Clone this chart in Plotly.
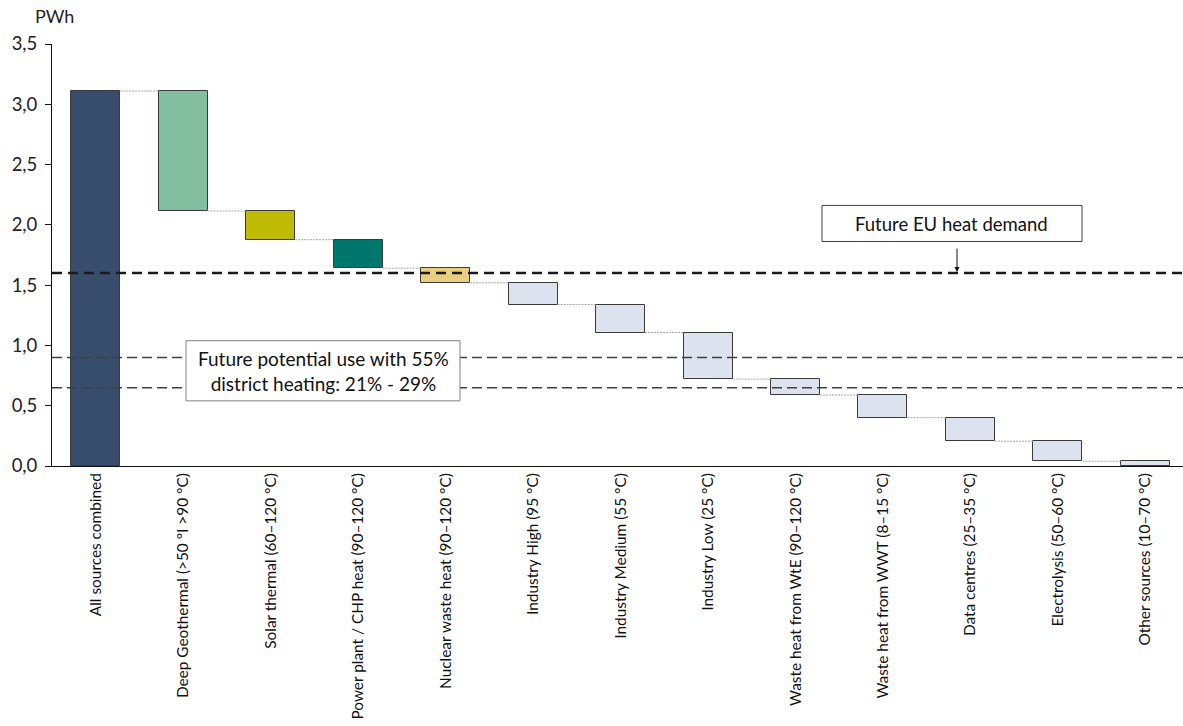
import plotly.graph_objects as go

categories = [
    "All sources combined",
    "Deep Geothermal (>50 °I >90 °C)",
    "Solar thermal (60–120 °C)",
    "Power plant / CHP heat (90–120 °C)",
    "Nuclear waste heat (90–120 °C)",
    "Industry High (95 °C)",
    "Industry Medium (55 °C)",
    "Industry Low (25 °C)",
    "Waste heat from WtE (90–120 °C)",
    "Waste heat from WWT (8–15 °C)",
    "Data centres (25–35 °C)",
    "Electrolysis (50–60 °C)",
    "Other sources (10–70 °C)",
]
total_value = 3.11
contributions = [0.995, 0.238, 0.236, 0.122, 0.18, 0.232, 0.386, 0.132, 0.188, 0.195, 0.166, 0.04]
eu_heat_demand = 1.6
potential_range = [0.9, 0.65]
bar_colors = ["#384D6B", "#83BEA0", "#BFBA05", "#00776D", "#E8CE7E"] + ["#DCE3EE"] * 8

# floating bars
bases = [0.0]
heights = [total_value]
level = total_value
for c in contributions:
    level -= c
    bases.append(level)
    heights.append(c)

W, H = 1183, 726
L, T, B = 52, 44, 260
bar_w = 0.56
x_right = 12.43

fig = go.Figure()
fig.add_trace(go.Bar(
    x=list(range(len(categories))), y=heights, base=bases, width=bar_w,
    marker=dict(color=bar_colors, line=dict(color="#3A3A3A", width=1)),
    showlegend=False, hoverinfo="skip",
))

shapes = []
# connectors
for i in range(len(categories) - 1):
    top_next = bases[i + 1] + heights[i + 1]
    shapes.append(dict(type="line", xref="x", yref="y",
                       x0=i + bar_w / 2, x1=i + 1 - bar_w / 2, y0=top_next, y1=top_next,
                       line=dict(color="#A6A6A6", width=1, dash="2px,1px"), layer="above"))
# reference lines
shapes.append(dict(type="line", xref="paper", yref="y", x0=0, x1=1, y0=eu_heat_demand, y1=eu_heat_demand,
                   line=dict(color="#1A1A1A", width=2.5, dash="10px,6px"), layer="above"))
for v in potential_range:
    shapes.append(dict(type="line", xref="paper", yref="y", x0=0, x1=1, y0=v, y1=v,
                       line=dict(color="#404040", width=1.5, dash="10px,5px"), layer="above"))

pw = W - L
def px_x(p):
    return (p - L) / pw
def px_y(p):
    return (466 - p) / 120.3 * 1.0

# boxes
shapes.append(dict(type="rect", xref="paper", yref="y", x0=px_x(822), x1=px_x(1082),
                   y0=px_y(242), y1=px_y(206), fillcolor="white",
                   line=dict(color="#404040", width=1), layer="above"))
shapes.append(dict(type="rect", xref="paper", yref="y", x0=px_x(186), x1=px_x(460),
                   y0=px_y(401), y1=px_y(341), fillcolor="white",
                   line=dict(color="#808080", width=1), layer="above"))

font_family = "Lato, Carlito, 'Open Sans', sans-serif"
annotations = [
    dict(text="PWh", xref="paper", yref="paper", x=px_x(33), y=(466 - 16) / 422,
         xanchor="left", yanchor="middle", showarrow=False, font=dict(size=18, color="#222")),
    dict(text="Future EU heat demand", xref="paper", yref="y", x=px_x(951), y=px_y(225),
         xanchor="center", yanchor="middle", showarrow=False, font=dict(size=18.5, color="#111")),
    dict(text="Future potential use with 55%<br>district heating: 21% - 29%", xref="paper", yref="y",
         x=px_x(323), y=px_y(371), xanchor="center", yanchor="middle", showarrow=False,
         font=dict(size=19, color="#111")),
    dict(text="", xref="paper", yref="y", x=px_x(957), y=eu_heat_demand, ax=0, ay=-26,
         showarrow=True, arrowhead=2, arrowsize=1, arrowwidth=1, arrowcolor="#111", standoff=1),
]

fig.update_layout(
    width=W, height=H,
    margin=dict(l=L, r=0, t=T, b=B, autoexpand=False),
    plot_bgcolor="white", paper_bgcolor="white",
    separators=",.",
    font=dict(family=font_family, color="#222"),
    shapes=shapes, annotations=annotations,
    bargap=0,
    xaxis=dict(
        range=[-0.5, x_right], tickmode="array",
        tickvals=list(range(len(categories))), ticktext=categories,
        tickangle=-90, tickfont=dict(size=15.4, color="#111"),
        showline=True, linecolor="#111", linewidth=1, showgrid=False, zeroline=False,
        ticks="", fixedrange=True, automargin=False,
    ),
    yaxis=dict(
        range=[0, 3.5], dtick=0.5, tickformat=".1f",
        tickfont=dict(size=18.5, color="#222"),
        showline=True, linecolor="#111", linewidth=1, showgrid=False, zeroline=False,
        ticks="outside", ticklen=6, tickcolor="#111", ticklabelstandoff=4, automargin=False,
    ),
)

fig.write_html("out.html")
